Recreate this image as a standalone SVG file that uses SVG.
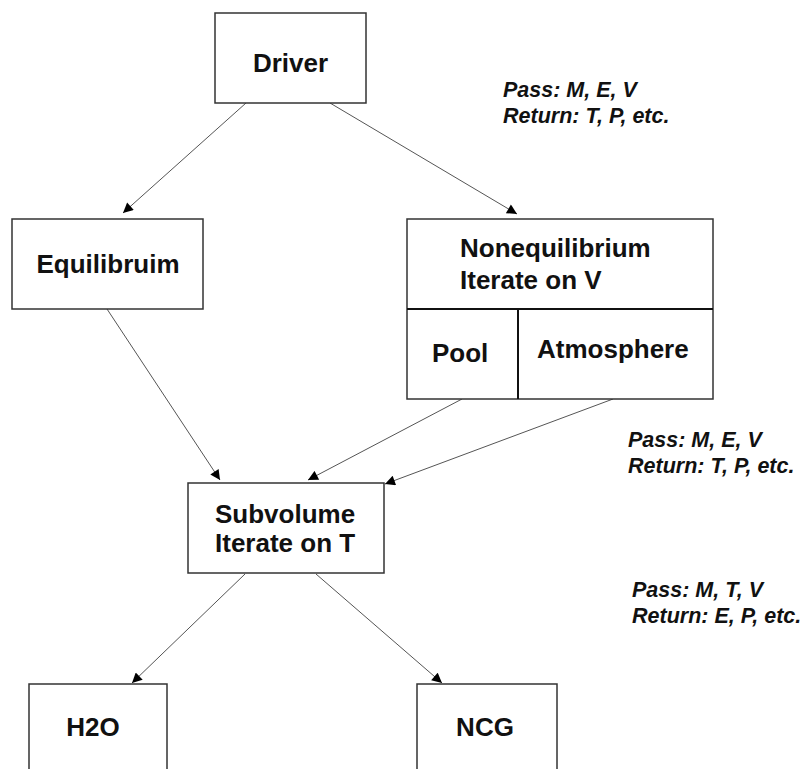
<svg xmlns="http://www.w3.org/2000/svg" width="805" height="769" viewBox="0 0 805 769">
<defs>
<style>
.box{fill:#fff;stroke:#333;stroke-width:1.5}
.t{font-family:"Liberation Sans",Arial,sans-serif;font-weight:bold;font-size:26px;fill:#111}
.c{text-anchor:middle}
.lbl{font-family:"Liberation Sans",Arial,sans-serif;font-weight:bold;font-style:italic;font-size:21.5px;fill:#111}
.con{stroke:#555;stroke-width:1;fill:none;marker-end:url(#ah)}
</style>
<marker id="ah" viewBox="0 0 10 10" refX="10" refY="5" markerWidth="12" markerHeight="10" markerUnits="userSpaceOnUse" orient="auto">
<path d="M0,0 L10,5 L0,10 z" fill="#000"/>
</marker>
</defs>
<rect width="805" height="769" fill="#fff"/>
<g id="connectors">
<line class="con" x1="246" y1="103" x2="123" y2="213"/>
<line class="con" x1="330" y1="103" x2="517" y2="214"/>
<line class="con" x1="107" y1="309" x2="220" y2="480"/>
<line class="con" x1="462" y1="399" x2="308" y2="480"/>
<line class="con" x1="613" y1="399" x2="385" y2="484"/>
<line class="con" x1="245" y1="574" x2="132" y2="683"/>
<line class="con" x1="316" y1="574" x2="442" y2="683"/>
</g>
<g id="driver">
<rect class="box" x="215" y="13" width="151" height="90"/>
<text class="t c" x="290.5" y="72">Driver</text>
</g>
<g id="equilibrium">
<rect class="box" x="12" y="219" width="191" height="90"/>
<text class="t c" x="108" y="273">Equilibruim</text>
</g>
<g id="nonequilibrium">
<rect class="box" x="407" y="219" width="306" height="180"/>
<line x1="407" y1="309" x2="713" y2="309" stroke="#111" stroke-width="2"/>
<line x1="518" y1="309" x2="518" y2="399" stroke="#111" stroke-width="2"/>
<text class="t" x="460" y="257">Nonequilibrium</text>
<text class="t" x="460" y="289">Iterate on V</text>
</g>
<g id="pool">
<text class="t" x="432" y="362">Pool</text>
</g>
<g id="atmosphere">
<text class="t" x="537" y="358">Atmosphere</text>
</g>
<g id="subvolume">
<rect class="box" x="188" y="483" width="196" height="90"/>
<text class="t" x="215" y="523">Subvolume</text>
<text class="t" x="215" y="552">Iterate on T</text>
</g>
<g id="h2o">
<rect class="box" x="29" y="684" width="138" height="100"/>
<text class="t c" x="93" y="736">H2O</text>
</g>
<g id="ncg">
<rect class="box" x="417" y="684" width="140" height="100"/>
<text class="t c" x="485" y="736">NCG</text>
</g>
<g id="labels">
<text class="lbl" x="503" y="97">Pass: M, E, V</text>
<text class="lbl" x="503" y="123">Return: T, P, etc.</text>
<text class="lbl" x="628" y="447">Pass: M, E, V</text>
<text class="lbl" x="628" y="473">Return: T, P, etc.</text>
<text class="lbl" x="632" y="597">Pass: M, T, V</text>
<text class="lbl" x="632" y="623">Return: E, P, etc.</text>
</g>
</svg>
